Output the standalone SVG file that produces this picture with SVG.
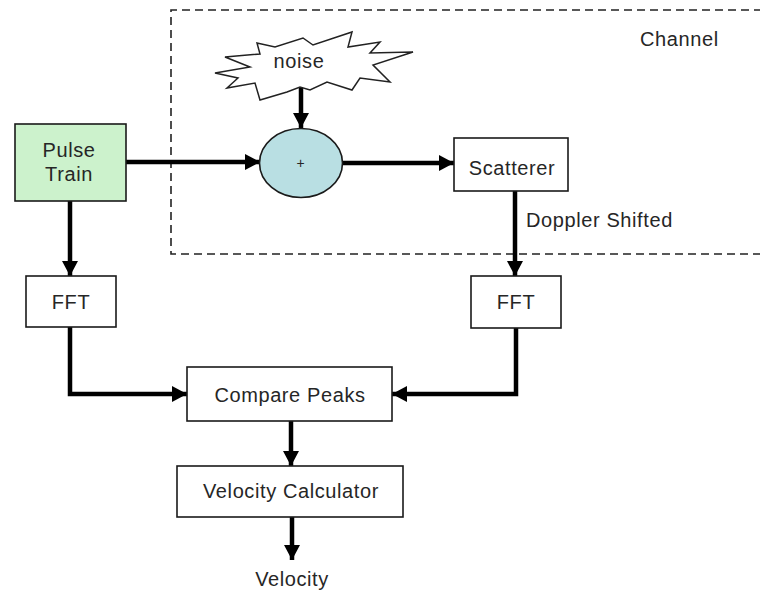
<svg xmlns="http://www.w3.org/2000/svg" width="760" height="592" viewBox="0 0 760 592">
  <style>
    .box { fill: #ffffff; stroke: #1a1a1a; stroke-width: 1.6; }
    .lbl { font-family: "Liberation Sans", Arial, sans-serif; font-size: 20px; letter-spacing: 0.6px; fill: #262626; text-anchor: middle; }
    .free { font-family: "Liberation Sans", Arial, sans-serif; font-size: 20px; letter-spacing: 0.6px; fill: #262626; }
    .wire { fill: none; stroke: #000000; stroke-width: 4.5; stroke-linejoin: miter; marker-end: url(#head); }
  </style>
  <defs>
    <marker id="head" markerUnits="userSpaceOnUse" markerWidth="16" markerHeight="16" refX="15" refY="8" orient="auto">
      <path d="M0,0 L15,8 L0,16 Z" fill="#000000"/>
    </marker>
  </defs>

  <rect width="760" height="592" fill="#ffffff"/>

  <!-- channel boundary -->
  <g id="channel">
    <path d="M762,10 L171,10 L171,254 L762,254" fill="none" stroke="#222222" stroke-width="1.6" stroke-dasharray="8,5"/>
    <text class="free" x="640" y="46">Channel</text>
  </g>

  <!-- connectors -->
  <g id="connectors">
    <path class="wire" d="M126,162 L260,162"/>
    <path class="wire" d="M301,88 L301,128"/>
    <path class="wire" d="M343,163 L454,163"/>
    <path class="wire" d="M70,201 L70,276"/>
    <path class="wire" d="M515,191 L515,276"/>
    <path class="wire" d="M70,327 L70,394 L187,394"/>
    <path class="wire" d="M516,328 L516,394 L392,394"/>
    <path class="wire" d="M291,421 L291,466"/>
    <path class="wire" d="M292,517 L292,560"/>
    <text class="free" x="526" y="227">Doppler Shifted</text>
  </g>

  <g id="noise">
    <polygon points="215,73 250,67 225,57 260,54 257,43 275,47 303,38 313,45 352,32 348,47 380,42 370,53 413,52 373,65 390,82 360,78 352,90 327,82 310,90 300,87 287,92 260,100 255,83 227,88 238,78" fill="#ffffff" stroke="#222222" stroke-width="1.5" stroke-linejoin="miter"/>
    <text class="lbl" x="299" y="68">noise</text>
  </g>

  <g id="pulse-train">
    <rect class="box" x="15" y="124" width="111" height="77" style="fill:#ccf2cc"/>
    <text class="lbl" x="69" y="157">Pulse</text>
    <text class="lbl" x="69" y="181">Train</text>
  </g>

  <g id="adder">
    <ellipse cx="301" cy="163" rx="41.5" ry="34.5" fill="#b9dfe3" stroke="#1a1a1a" stroke-width="1.6"/>
    <text class="lbl" x="301" y="168" style="font-size:14px">+</text>
  </g>

  <g id="scatterer">
    <rect class="box" x="454" y="138" width="114" height="53"/>
    <text class="lbl" x="512" y="175">Scatterer</text>
  </g>

  <g id="fft-left">
    <rect class="box" x="26" y="276" width="90" height="51"/>
    <text class="lbl" x="71" y="309">FFT</text>
  </g>

  <g id="fft-right">
    <rect class="box" x="471" y="276" width="90" height="52"/>
    <text class="lbl" x="516" y="309">FFT</text>
  </g>

  <g id="compare-peaks">
    <rect class="box" x="187" y="367" width="205" height="54"/>
    <text class="lbl" x="290" y="402">Compare Peaks</text>
  </g>

  <g id="velocity-calculator">
    <rect class="box" x="177" y="466" width="226" height="51"/>
    <text class="lbl" x="291" y="498">Velocity Calculator</text>
  </g>

  <g id="velocity">
    <text class="lbl" x="292" y="586">Velocity</text>
  </g>
</svg>
